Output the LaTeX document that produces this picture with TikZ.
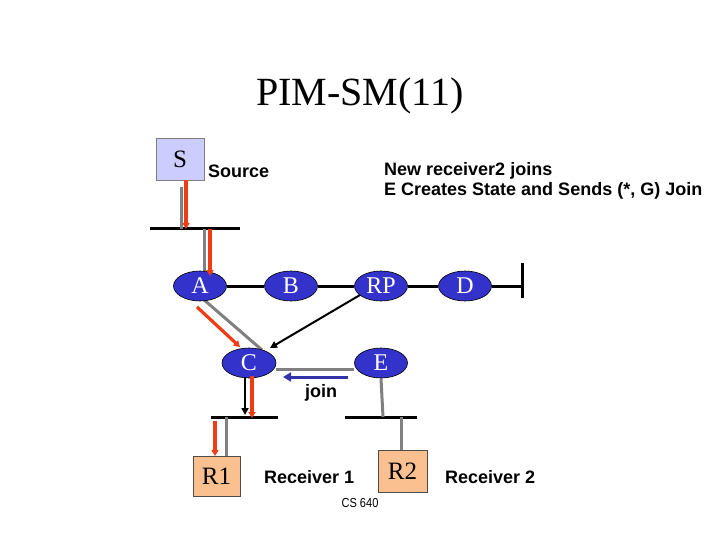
\documentclass[tikz,border=0pt]{standalone}
\usepackage{fontspec}
\setmainfont{Liberation Serif}
\setsansfont{Liberation Sans}
\usetikzlibrary{shapes.geometric,arrows.meta,backgrounds}
\definecolor{rtr}{RGB}{51,51,204}
\definecolor{srcfill}{RGB}{204,204,255}
\definecolor{rcvfill}{RGB}{250,192,144}
\definecolor{redarr}{RGB}{240,60,20}
\definecolor{grayln}{RGB}{128,128,128}
\definecolor{joinblue}{RGB}{51,51,170}
\tikzset{
  router/.style={ellipse,draw=black,line width=0.6pt,fill=rtr,text=white,inner sep=0pt,
    minimum width=53pt,minimum height=30pt,font=\fontsize{24}{24}\selectfont},
  hostbox/.style={rectangle,draw=black!70,line width=0.8pt,inner sep=0pt,font=\fontsize{25}{25}\selectfont},
  lbl/.style={font=\sffamily\bfseries\fontsize{18}{20}\selectfont,inner sep=0pt,anchor=west},
  bus/.style={line width=3pt,black},
  link/.style={line width=3pt,black},
  gline/.style={line width=3pt,grayln},
  redarrow/.style={line width=3.2pt,redarr,-{Triangle[length=6pt,width=7pt]}},
  blkarrow/.style={line width=2pt,black,-{Triangle[length=7pt,width=7pt]}},
}
\begin{document}
\begin{tikzpicture}[x=1pt,y=-1pt]
\useasboundingbox (0,0) rectangle (720,540);
\node (title) at (360,96) {\fontsize{40}{40}\selectfont PIM-SM(11)};
% hosts
\node[hostbox,fill=srcfill,draw=black!50,minimum width=48pt,minimum height=42pt] (S) at (180,159) {S};
\node[hostbox,fill=rcvfill,minimum width=47pt,minimum height=40pt] (R1) at (216.5,476) {R1};
\node[hostbox,fill=rcvfill,minimum width=49pt,minimum height=42pt] (R2) at (402.5,471) {R2};
% routers
\node[router] (A) at (200,286) {A};
\node[router] (B) at (291,286) {B};
\node[router] (RP) at (381,286) {RP};
\node[router] (D) at (465,286) {D};
\node[router,minimum width=54pt] (C) at (249,363) {C};
\node[router] (E) at (381,363) {E};
% bus coordinates
\coordinate (b1l) at (150,229); \coordinate (b1r) at (240,229);
\coordinate (b2l) at (211,417); \coordinate (b2r) at (278,417);
\coordinate (b3l) at (345,417); \coordinate (b3r) at (417,417);
\coordinate (bDt) at (522,263); \coordinate (bDb) at (522,298);
\coordinate (aIn) at (210,276);
% labels
\node[lbl] (src) at (208,171) {Source};
\node[lbl,align=left] (info) at (384,181) {New receiver2 joins\\E Creates State and Sends (*, G) Join};
\node[lbl,anchor=center] (joinlbl) at (321,393) {join};
\node[lbl] (rc1) at (264,477) {Receiver 1};
\node[lbl] (rc2) at (445,477) {Receiver 2};
\node[font=\sffamily\fontsize{13}{13}\selectfont,inner sep=0pt,xscale=0.85] (cs) at (360,503) {CS 640};
\begin{scope}[on background layer]
  \draw[bus] (b1l) -- (b1r);
  \draw[bus] (b2l) -- (b2r);
  \draw[bus] (b3l) -- (b3r);
  \draw[bus] (bDt) -- (bDb);
  \draw[link] (A) -- (B);
  \draw[link] (B) -- (RP);
  \draw[link] (RP) -- (D);
  \draw[link] (D.east) -- (bDt |- D.east);
  % gray tree
  \draw[gline] (181,187) -- (181,229);
  \draw[gline] (204,229) -- (A.north -| 204,0);
  \draw[gline] (203,299) -- (262,350);
  \draw[gline] (C.east |- 0,369) -- (E.west |- 0,369);
  \draw[gline] (E.south) -- (383,417);
  \draw[gline] (401,417) -- (R2.north -| 401,0);
  \draw[gline] (226,417) -- (R1.north -| 226,0);
\end{scope}
% red data arrows
\draw[redarrow] (S.south -| 186,0) -- (186,229);
\draw[redarrow] (210,229) -- (aIn);
\draw[redarrow] (197,307) -- (240,347);
\draw[redarrow] (252,376) -- (252,418);
\draw[redarrow] (215,421) -- (215,456);
% black join arrows
\draw[blkarrow] (360,295) -- (270,348);
\draw[blkarrow] (245,377) -- (245,415);
% blue join arrow
\draw[line width=3pt,joinblue,-{Triangle[length=8pt,width=9pt]}] (348,377) -- (283,377);
\end{tikzpicture}
\end{document}
